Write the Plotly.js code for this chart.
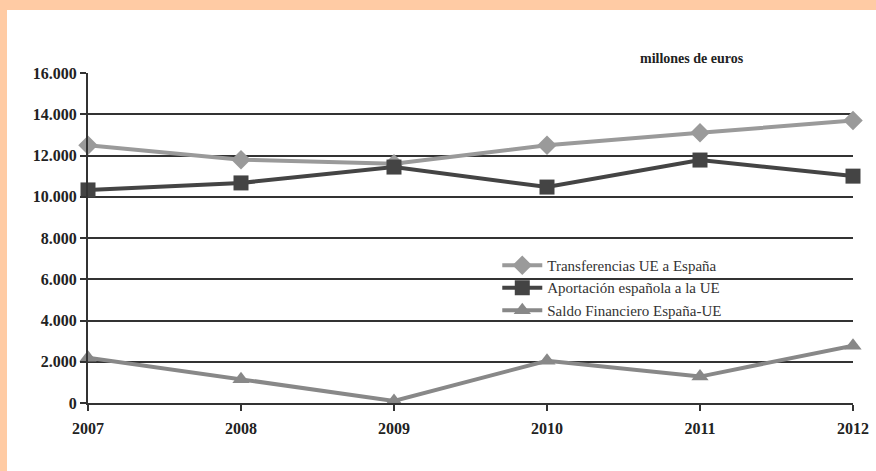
<!DOCTYPE html>
<html>
<head>
<meta charset="utf-8">
<script src="https://cdn.plot.ly/plotly-3.0.1.min.js"></script>
<style>
html,body{margin:0;padding:0;background:#FFCBA4;width:876px;height:471px;overflow:hidden;}
#chart{position:absolute;left:7px;top:10px;width:869px;height:461px;background:#fff;}
</style>
</head>
<body>
<div id="chart"></div>
<script>
const years = [2007, 2008, 2009, 2010, 2011, 2012];
const transferencias = [12500, 11800, 11600, 12500, 13100, 13700];
const aportacion = [10330, 10670, 11440, 10470, 11780, 11000];
const saldo = [2200, 1150, 100, 2050, 1280, 2780];
const seriesNames = ["Transferencias UE a España", "Aportación española a la UE", "Saldo Financiero España-UE"];
const yTicks = [0, 2000, 4000, 6000, 8000, 10000, 12000, 14000, 16000];
const unitLabel = "millones de euros";

const serif = "Liberation Serif";

const traces = [
  {x: years, y: transferencias, name: seriesNames[0], mode: "lines+markers",
   line: {color: "#9a9a9a", width: 4}, marker: {symbol: "diamond", size: 15, color: "#9a9a9a"}, cliponaxis: false},
  {x: years, y: aportacion, name: seriesNames[1], mode: "lines+markers",
   line: {color: "#444444", width: 4}, marker: {symbol: "square", size: 15, color: "#444444"}, cliponaxis: false},
  {x: years, y: saldo, name: seriesNames[2], mode: "lines+markers",
   line: {color: "#888888", width: 4}, marker: {symbol: "triangle-up", size: 15, color: "#888888"}, cliponaxis: false}
];

const layout = {
  width: 869, height: 461,
  margin: {l: 81, r: 23, t: 63, b: 68},
  paper_bgcolor: "#ffffff", plot_bgcolor: "#ffffff",
  separators: ",.",
  showlegend: true,
  legend: {x: 0.535, y: 0.467, xanchor: "left", yanchor: "top", bgcolor: "rgba(0,0,0,0)",
           font: {family: serif, size: 15, color: "#333"}, tracegroupgap: 0, itemwidth: 40},
  font: {family: serif, color: "#222"},
  xaxis: {range: [2007, 2012], tickvals: years, ticktext: years.map(String),
          showgrid: false, zeroline: false, showline: true, linecolor: "#333", linewidth: 2,
          ticks: "outside", ticklen: 6, tickwidth: 2, tickcolor: "#333", ticklabelstandoff: 4,
          tickfont: {family: serif, size: 16, color: "#222", weight: "bold"}},
  yaxis: {range: [0, 16000], tickvals: yTicks, tickformat: ",d",
          showgrid: true, gridcolor: "#333", gridwidth: 2, zeroline: false,
          showline: true, linecolor: "#333", linewidth: 2,
          ticks: "outside", ticklen: 6, tickwidth: 2, tickcolor: "#333",
          tickfont: {family: serif, size: 16, color: "#222", weight: "bold"}},
  annotations: [{text: "<b>" + unitLabel + "</b>", xref: "paper", yref: "paper", x: 0.79, y: 1.015,
                 xanchor: "center", yanchor: "bottom", showarrow: false,
                 font: {family: serif, size: 14, color: "#222"}}]
};

Plotly.newPlot("chart", traces, layout, {displayModeBar: false, staticPlot: true});
</script>
</body>
</html>
